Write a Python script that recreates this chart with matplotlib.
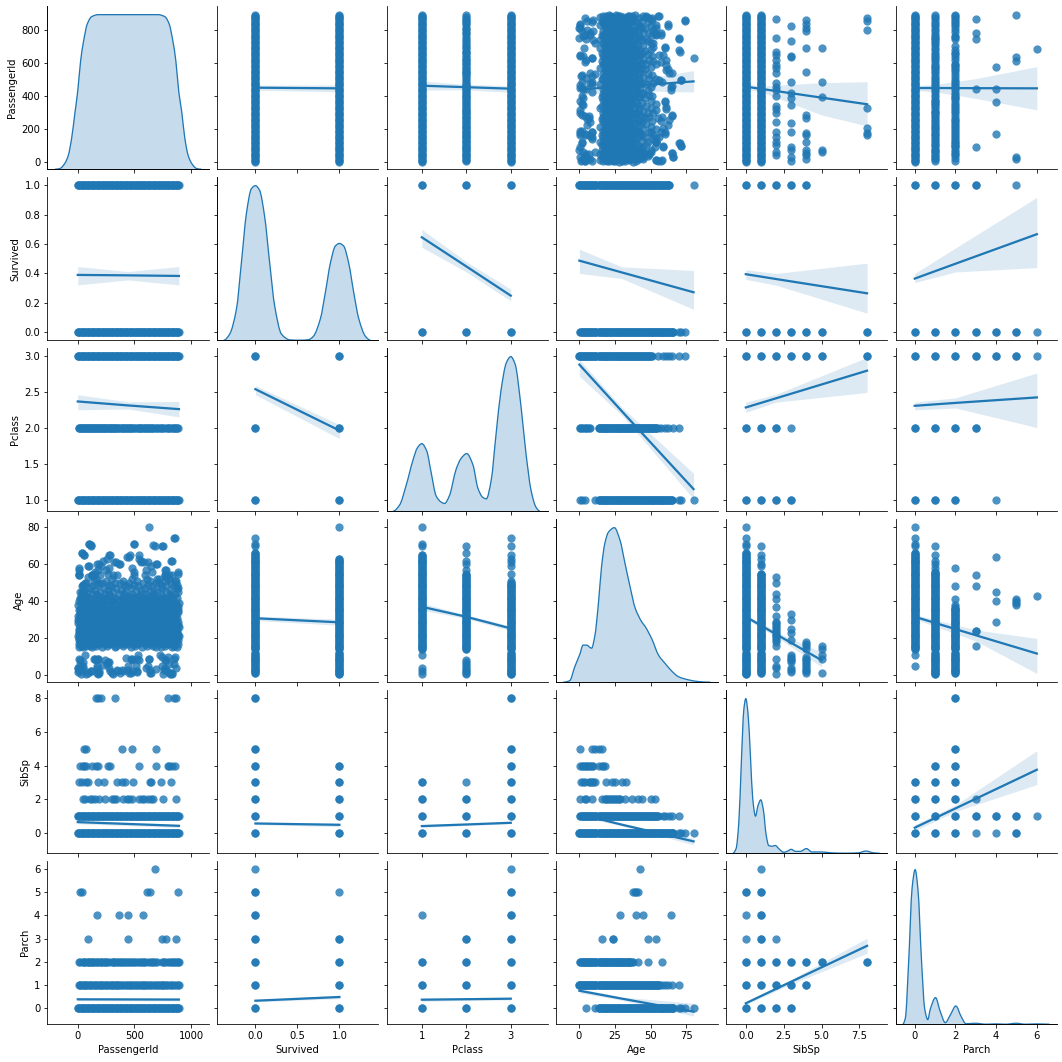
import matplotlib
matplotlib.use("Agg")
import matplotlib.pyplot as plt
from matplotlib.patches import PathPatch
from matplotlib.path import Path

columns = ["PassengerId", "Survived", "Pclass", "Age", "SibSp", "Parch"]

# axis ranges and ticks
x_limits = [(-267, 1153), (-0.457, 1.464), (0.21, 3.84), (-15.6, 96.9), (-1.3, 9.35), (-0.93, 7.0)]
y_limits = [(-42, 943), (-0.054, 1.056), (0.851, 3.11), (-3.8, 84.5), (-1.19, 8.47), (-0.68, 6.34)]
x_ticks = [[0, 500, 1000], [0.0, 0.5, 1.0], [1, 2, 3], [0, 25, 50, 75], [0.0, 2.5, 5.0, 7.5], [0, 2, 4, 6]]
y_ticks = [[0, 200, 400, 600, 800], [0.0, 0.2, 0.4, 0.6, 0.8, 1.0], [1.0, 1.5, 2.0, 2.5, 3.0],
           [0, 20, 40, 60, 80], [0, 2, 4, 6, 8], [0, 1, 2, 3, 4, 5, 6]]

# diagonal density curves, relative height
kde_id_x = [-199, -155, -111, -82, -53, -23, 0, 26, 50, 85, 123, 181, 445, 709, 767, 805, 840, 864, 890, 916, 943, 972, 1001, 1045, 1089]
kde_id_y = [0, 0.005, 0.04, 0.09, 0.2, 0.37, 0.5, 0.7, 0.82, 0.94, 0.987, 1.0, 1.0, 1.0, 0.987, 0.94, 0.82, 0.7, 0.5, 0.37, 0.2, 0.09, 0.04, 0.005, 0]
kde_survived_x = [-0.377, -0.306, -0.226, -0.167, -0.107, -0.048, 0, 0.05, 0.11, 0.17, 0.23, 0.31, 0.41, 0.53, 0.63,
                  0.69, 0.774, 0.833, 0.893, 0.952, 1.0, 1.05, 1.11, 1.17, 1.23, 1.31, 1.37]
kde_survived_y = [0, 0.04, 0.2, 0.5, 0.82, 0.98, 1.0, 0.97, 0.8, 0.5, 0.22, 0.04, 0.002, 0, 0.003,
                  0.025, 0.14, 0.31, 0.5, 0.61, 0.626, 0.61, 0.5, 0.31, 0.14, 0.025, 0]
kde_pclass_x = [0.35, 0.5, 0.65, 0.8, 0.9, 1.0, 1.11, 1.21, 1.32, 1.43, 1.51, 1.62, 1.77, 1.88, 2.01, 2.15, 2.26, 2.37, 2.45, 2.56,
                2.67, 2.78, 2.9, 3.0, 3.1, 3.23, 3.34, 3.46, 3.57, 3.66]
kde_pclass_y = [0, 0.04, 0.17, 0.33, 0.41, 0.437, 0.39, 0.25, 0.1, 0.06, 0.05, 0.1, 0.27, 0.34, 0.373, 0.3, 0.15, 0.09, 0.08, 0.2,
                0.5, 0.78, 0.96, 1.0, 0.95, 0.68, 0.38, 0.13, 0.025, 0]
kde_age_x = [-11, -6.3, -2.8, 0.7, 3, 5.4, 8.9, 11.2, 13.6, 15.9, 18.2, 20.6, 24.8, 28.7, 32.2, 35.7, 39.3, 43.9, 46.3, 50.9,
             55.6, 60.3, 65, 69.6, 76.6, 83.6, 91.8]
kde_age_y = [0, 0.01, 0.1, 0.18, 0.24, 0.24, 0.22, 0.3, 0.5, 0.75, 0.9, 0.97, 1.0, 0.92, 0.77, 0.62, 0.48, 0.39, 0.36, 0.28,
             0.175, 0.12, 0.07, 0.035, 0.015, 0.004, 0]
kde_sibsp_x = [-0.86, -0.64, -0.46, -0.29, -0.13, 0, 0.15, 0.31, 0.46, 0.64, 0.81, 0.99, 1.16, 1.34, 1.51, 1.73, 1.95, 2.17, 2.5, 2.72,
               3, 3.27, 3.6, 4, 4.36, 5, 5.68, 6.56, 7.4, 7.94, 8.4, 8.82]
kde_sibsp_y = [0, 0.03, 0.2, 0.6, 0.93, 1.0, 0.9, 0.62, 0.35, 0.24, 0.31, 0.345, 0.28, 0.12, 0.05, 0.045, 0.05, 0.03, 0.006, 0.012,
               0.025, 0.012, 0.012, 0.03, 0.008, 0.008, 0.002, 0, 0.002, 0.014, 0.003, 0]
kde_parch_x = [-0.59, -0.46, -0.3, -0.13, 0.02, 0.16, 0.33, 0.49, 0.64, 0.77, 1.02, 1.26, 1.5, 1.75, 2.02, 2.28, 2.52, 2.98, 3.5, 4, 4.46, 4.98, 5.44, 6, 6.62]
kde_parch_y = [0, 0.04, 0.4, 0.88, 1.0, 0.87, 0.42, 0.1, 0.03, 0.1, 0.172, 0.08, 0.01, 0.06, 0.118, 0.05, 0.003, 0.006, 0, 0.002, 0, 0.006, 0, 0.002, 0]

# passenger ids that fill the solid rows
id_band = [1, 7, 14, 21, 29, 36, 43, 50, 58, 65, 72, 80, 88, 94, 101, 109, 117, 124, 131, 138, 146, 153, 160, 167, 175, 182,
           190, 197, 204, 211, 219, 226, 233, 240, 248, 255, 262, 269, 277, 284, 291, 298, 306, 313, 320, 327, 335, 342,
           349, 356, 364, 371, 378, 385, 393, 400, 407, 414, 422, 429, 436, 443, 451, 458, 465, 472, 480, 487, 494, 501,
           509, 516, 523, 530, 538, 545, 552, 559, 567, 574, 581, 588, 596, 603, 610, 617, 625, 632, 639, 646, 654, 661,
           668, 675, 683, 690, 697, 704, 712, 719, 726, 733, 741, 748, 755, 762, 770, 777, 784, 791, 799, 806, 813, 820,
           828, 835, 842, 849, 857, 864, 871, 877, 884, 891]
id_pclass2 = [10, 16, 22, 29, 35, 44, 51, 58, 65, 72, 79, 85, 92, 99, 107, 117, 121, 128, 135, 145, 150, 156, 161, 170, 178,
              184, 191, 200, 207, 214, 220, 227, 238, 244, 249, 260, 266, 273, 281, 289, 296, 304, 311, 318, 323, 332, 340,
              349, 358, 367, 377, 386, 393, 400, 408, 417, 425, 433, 441, 450, 459, 466, 473, 484, 495, 506, 518, 530, 539,
              547, 553, 560, 571, 582, 591, 600, 609, 618, 626, 634, 645, 657, 665, 674, 687, 697, 708, 721, 734, 744, 754,
              772, 782, 792, 802, 812, 828, 838, 849, 857, 866, 877, 887]
id_parch1 = [8, 17, 25, 35, 44, 59, 64, 72, 79, 98, 107, 119, 130, 140, 153, 165, 172, 184, 194, 206, 215, 225, 237, 248, 262,
             274, 286, 298, 306, 312, 330, 340, 349, 357, 368, 378, 391, 408, 422, 436, 449, 460, 470, 486, 499, 511, 523,
             537, 551, 562, 572, 583, 593, 610, 622, 636, 648, 660, 679, 690, 707, 720, 731, 742, 752, 760, 775, 790, 803,
             824, 832, 849, 862, 879, 889]
id_parch2 = [9, 25, 44, 52, 60, 72, 89, 96, 103, 114, 125, 137, 148, 160, 172, 183, 194, 205, 218, 230, 241, 252, 262, 280,
             298, 312, 322, 332, 344, 357, 375, 385, 394, 406, 418, 436, 446, 458, 470, 486, 499, 515, 530, 549, 560, 573,
             586, 592, 616, 637, 652, 660, 680, 700, 742, 756, 764, 785, 803, 820, 834, 847, 856, 870, 880, 890]

id_sibsp2 = [44, 64, 105, 125, 155, 185, 245, 300, 320, 340, 400, 436, 456, 476, 537, 567, 587, 617, 647, 667, 748, 862]
id_sibsp3 = [10, 34, 74, 94, 181, 235, 346, 386, 416, 486, 637, 643, 730, 822]
id_sibsp4 = [18, 44, 54, 74, 125, 165, 175, 265, 285, 543, 687, 792, 808, 834, 858]
id_sibsp5 = [60, 74, 392, 482, 687]
id_sibsp8 = [165, 175, 205, 326, 796, 852, 868]
id_parch3 = [90, 440, 742, 778, 862]
id_parch4 = [169, 362, 440, 573]
id_parch5 = [20, 34, 613, 637, 886]
id_parch6 = [681]

# ages that fill the solid columns
age_band = [0.4, 1, 2, 3, 4, 5, 6, 7, 8, 9, 10, 11, 12, 14, 15, 16, 17, 18, 19, 20, 21, 22, 23, 24, 25, 26, 27, 28, 29, 30,
            31, 32, 33, 34, 35, 36, 37, 38, 39, 40, 41, 42, 43, 44, 45, 46, 47, 48, 49, 50, 51, 52, 53, 54, 55, 56, 57, 58,
            59, 60, 61, 62, 63, 64, 65, 66]
age_sibsp2 = [0.8, 4, 5, 9, 16, 18, 19, 20, 21, 22, 23, 24, 25, 26, 27, 28, 29, 32, 37, 41, 44, 50, 53]
age_sibsp3 = [1.5, 3, 4, 7, 8, 9, 10, 11, 19, 23, 25, 30, 33]
age_sibsp4 = [1, 2, 3, 4, 5, 6, 7, 8, 9, 10, 14, 16, 17, 18]
age_sibsp5 = [1, 9, 11, 14, 16]
age_parch3 = [16, 24, 24, 48, 54]
age_parch4 = [29, 40, 45, 64]
age_parch5 = [38, 39, 40, 41]
age_parch6 = [43]

# PassengerId against Age, row by row for the crowded middle
core_ages = [15, 16, 17, 18, 19, 20, 21, 22, 23, 24, 25, 26, 27, 28, 29, 30, 31, 32, 33, 34, 35, 36, 37, 38, 39, 40, 41, 42,
             43, 44, 45, 46, 47, 48, 49, 50, 51, 52, 54]
core_ids = [
    [15, 50, 125, 210, 330, 470, 570, 690, 735, 830, 875],
    [30, 72, 105, 165, 260, 340, 395, 505, 610, 660, 765, 850],
    [8, 58, 118, 190, 240, 300, 375, 445, 535, 640, 720, 795, 880],
    [25, 85, 140, 205, 280, 350, 420, 490, 560, 625, 700, 775, 860],
    [12, 68, 128, 175, 255, 310, 400, 465, 525, 595, 680, 745, 820, 885],
    [40, 95, 155, 225, 290, 365, 435, 510, 580, 650, 715, 790, 870],
    [5, 62, 115, 185, 245, 335, 385, 455, 545, 615, 675, 755, 835, 888],
    [22, 78, 145, 215, 275, 345, 410, 480, 555, 630, 705, 780, 855],
    [48, 105, 170, 235, 305, 370, 440, 515, 590, 665, 730, 805, 876],
    [10, 66, 122, 195, 265, 325, 395, 470, 535, 605, 690, 760, 845],
    [35, 90, 150, 220, 285, 355, 425, 500, 570, 640, 725, 795, 865],
    [18, 75, 135, 200, 270, 340, 405, 460, 550, 620, 695, 770, 840, 889],
    [52, 110, 178, 250, 315, 380, 450, 520, 600, 670, 745, 815, 880],
    [2, 60, 125, 190, 260, 330, 390, 475, 540, 610, 685, 750, 830],
    [28, 82, 160, 230, 295, 360, 430, 505, 575, 645, 720, 790, 860],
    [14, 70, 140, 210, 280, 345, 415, 485, 560, 630, 700, 775, 850],
    [42, 98, 165, 240, 310, 375, 445, 530, 595, 660, 735, 810, 875],
    [6, 64, 130, 195, 255, 325, 400, 465, 545, 615, 680, 755, 835],
    [24, 88, 150, 225, 300, 360, 435, 510, 580, 650, 725, 800, 868],
    [55, 120, 180, 270, 340, 420, 490, 565, 635, 710, 785, 855],
    [11, 76, 145, 215, 290, 370, 455, 525, 600, 675, 745, 820, 884],
    [33, 100, 172, 245, 320, 395, 475, 550, 625, 695, 770, 845],
    [60, 135, 205, 350, 440, 590, 730, 880],
    [4, 85, 160, 280, 380, 520, 610, 690, 765, 860],
    [28, 115, 235, 325, 410, 490, 575, 665, 800, 888],
    [10, 70, 190, 300, 365, 465, 555, 640, 720, 845],
    [48, 150, 255, 345, 425, 530, 615, 705, 790],
    [20, 95, 220, 320, 395, 500, 585, 680, 760, 870],
    [65, 175, 285, 450, 540, 650, 825],
    [38, 130, 245, 360, 480, 600, 735, 855],
    [18, 85, 200, 310, 415, 515, 625, 700, 780, 880],
    [55, 155, 265, 385, 560, 670, 810],
    [105, 230, 340, 470, 595, 745, 885],
    [40, 125, 295, 435, 530, 655, 730, 845],
    [50, 180, 275, 405, 500, 620, 780, 870],
    [75, 215, 330, 370, 455, 575, 685, 825],
    [140, 250, 400, 525, 640, 770, 860],
    [165, 300, 480, 610, 720, 800],
    [122, 145, 200, 350, 500, 595, 769, 830],
]
# second pass over the ages where the cloud is solid
dense_ages = [17, 18, 19, 20, 21, 22, 23, 24, 25, 26, 27, 28, 29, 30, 31, 32, 33, 34, 35, 36, 38, 40, 42, 44]
dense_ids = [
    [35, 155, 275, 410, 500, 590, 760, 840],
    [55, 110, 175, 240, 315, 385, 455, 525, 595, 665, 740, 820],
    [38, 98, 215, 285, 365, 430, 495, 560, 640, 710, 785, 860],
    [10, 68, 125, 190, 260, 330, 400, 475, 545, 615, 685, 755, 835],
    [32, 88, 150, 215, 290, 360, 425, 500, 580, 645, 715, 795, 868],
    [50, 110, 180, 245, 310, 380, 445, 520, 590, 665, 745, 818, 885],
    [15, 78, 135, 200, 270, 340, 405, 480, 555, 625, 700, 770, 842],
    [38, 95, 160, 230, 295, 360, 430, 505, 570, 645, 725, 795, 870],
    [8, 62, 120, 185, 250, 320, 390, 465, 535, 605, 680, 760, 830],
    [45, 105, 168, 235, 305, 372, 435, 510, 585, 655, 730, 805, 878],
    [22, 85, 145, 215, 280, 350, 415, 490, 565, 635, 715, 780, 855],
    [30, 92, 158, 225, 295, 365, 440, 510, 578, 650, 718, 785, 862],
    [48, 118, 182, 245, 312, 378, 448, 520, 592, 668, 742, 815, 885],
    [5, 70, 132, 200, 262, 335, 408, 480, 550, 622, 695, 765, 840],
    [40, 105, 175, 248, 318, 392, 462, 538, 612, 688, 760, 832],
    [18, 82, 150, 222, 285, 352, 425, 498, 568, 640, 712, 788, 860],
    [58, 125, 195, 268, 338, 410, 488, 558, 632, 702, 778, 852],
    [28, 95, 170, 240, 312, 385, 445, 520, 595, 668, 738, 812, 880],
    [62, 135, 205, 280, 350, 428, 500, 572, 655, 730, 805],
    [20, 88, 155, 232, 305, 375, 465, 540, 620, 695, 770, 845],
    [45, 115, 190, 262, 398, 470, 545, 640, 715, 790, 870],
    [72, 140, 215, 300, 440, 510, 600, 680, 755, 825],
    [28, 100, 180, 250, 395, 470, 570, 650, 745, 825],
    [60, 165, 275, 410, 560, 660, 810],
]
# the stragglers, old and young
edge_ids = [631, 852, 664, 743, 494, 97, 117, 34, 55, 12, 10, 13, 95, 50, 122, 152, 171, 181, 205, 225, 255, 278, 319, 365,
            436, 459, 482, 497, 538, 561, 620, 605, 650, 687, 769, 825, 880, 772,
            5, 6, 20, 50, 64, 35, 50, 73, 114, 167, 167, 190, 152, 181, 225, 240, 278, 284, 313, 348, 386, 424, 444, 444, 465,
            482, 520, 532, 523, 541, 605, 629, 640, 687, 722, 745, 766, 751, 780, 795, 810, 833, 848, 868,
            830, 810, 790, 760, 850, 800, 770, 860, 740, 645, 640, 630, 620, 525, 485, 450, 480, 470, 510,
            400, 370, 350, 300, 280, 270, 260, 190, 175, 170, 180, 160, 140, 120, 90, 60, 30, 14, 6, 20, 10,
            832, 858, 748, 677, 285, 335, 370, 697, 557, 536, 456, 496, 118, 98, 54, 34, 98, 275, 250, 265,
            808, 778, 778, 697, 717, 868, 875, 882, 315, 95, 14, 10, 64, 34, 185, 185, 125, 647, 587]
edge_ages = [80, 74, 70.5, 70, 71, 71, 70.5, 66, 65, 58, 55, 54, 59, 49, 54, 56, 60, 57, 59, 62, 63, 65, 61, 60,
             64, 65, 58, 56, 65, 62, 61, 57, 56, 60, 57, 62, 56, 54,
             4, 1.5, 8, 7, 11, 4, 5, 0.5, 2, 4, 1, 2, 9, 9, 5.5, 8, 7, 2, 0.7, 3, 3, 9.5, 4.7, 3, 1,
             9, 9, 11, 1.5, 8, 4, 9, 1, 3.4, 11, 5, 4, 0.5, 8, 10, 0.5, 1, 9, 4,
             0.8, 1, 2, 3, 6, 6, 8, 10, 10, 1, 3, 9, 5, 2, 2, 1, 8, 9, 5,
             2, 1, 2, 1, 4, 7, 6, 1, 0.8, 5, 9, 8, 9, 2, 1, 3, 0.8, 2, 4, 6, 9,
             62, 74, 70, 70, 65, 61, 60, 60, 61, 63, 64, 71, 70, 71, 65, 66, 59, 58, 57, 55,
             54, 57, 53, 52, 50, 51, 47, 55, 54, 53, 54, 57, 50, 45, 50, 60, 54, 59, 61]

# how many dots each discrete cell gets: cells with one passenger stay pale
pclass_by_survived = ([1, 1, 2, 2, 3, 3, 1, 1, 2, 2, 3, 3], [0, 0, 0, 0, 0, 0, 1, 1, 1, 1, 1, 1])
survived_sibsp = ([0, 0, 0, 0, 0, 0, 0, 0, 0, 0, 0, 0, 0, 0, 1, 1, 1, 1, 1, 1, 1, 1, 1, 1],
                  [0, 0, 1, 1, 2, 2, 3, 3, 4, 4, 5, 5, 8, 8, 0, 0, 1, 1, 2, 2, 3, 3, 4, 4])
survived_parch = ([0, 0, 0, 0, 0, 0, 0, 0, 0, 0, 0, 0, 0, 1, 1, 1, 1, 1, 1, 1, 1, 1],
                  [0, 0, 1, 1, 2, 2, 3, 3, 4, 4, 5, 5, 6, 0, 0, 1, 1, 2, 2, 3, 3, 5])
pclass_sibsp = ([1, 1, 1, 1, 1, 1, 1, 1, 2, 2, 2, 2, 2, 2, 2, 3, 3, 3, 3, 3, 3, 3, 3, 3, 3, 3, 3, 3, 3],
                [0, 0, 1, 1, 2, 2, 3, 3, 0, 0, 1, 1, 2, 2, 3, 0, 0, 1, 1, 2, 2, 3, 3, 4, 4, 5, 5, 8, 8])
pclass_parch = ([1, 1, 1, 1, 1, 1, 1, 2, 2, 2, 2, 2, 2, 2, 2, 3, 3, 3, 3, 3, 3, 3, 3, 3, 3, 3, 3, 3],
                [0, 0, 1, 1, 2, 2, 4, 0, 0, 1, 1, 2, 2, 3, 3, 0, 0, 1, 1, 2, 2, 3, 3, 4, 4, 5, 5, 6])
sibsp_parch = ([0, 0, 0, 0, 0, 0, 0, 0, 0, 0, 1, 1, 1, 1, 1, 1, 1, 1, 1, 1, 1, 1, 1, 2, 2, 2, 2, 2, 2, 2, 3, 3, 3, 3, 3, 3, 4, 4, 4, 4, 5, 5, 8, 8],
               [0, 0, 1, 1, 2, 2, 3, 4, 5, 5, 0, 0, 1, 1, 2, 2, 3, 3, 4, 4, 5, 5, 6, 0, 0, 1, 1, 2, 2, 3, 0, 0, 1, 1, 2, 2, 1, 1, 2, 2, 2, 2, 2, 2])

# regression lines: x, fit, lower band, upper band
fit_id_survived = ([0, 1], [450, 446], [435, 425], [465, 467])
fit_id_pclass = ([1, 2, 3], [462, 453, 444], [436, 437, 422], [490, 470, 462])
fit_id_age = ([0.4, 30, 80], [440, 456, 488], [405, 432, 424], [472, 480, 553])
fit_id_sibsp = ([0, 1, 5, 8], [456, 443, 390, 350], [438, 425, 285, 219], [474, 460, 480, 486])
fit_id_parch = ([0, 1, 3, 6], [448, 448, 447, 446], [433, 425, 385, 316], [462, 470, 505, 577])
fit_survived_id = ([1, 445, 891], [0.39, 0.387, 0.383], [0.322, 0.356, 0.322], [0.447, 0.413, 0.447])
fit_survived_pclass = ([1, 2, 3], [0.646, 0.448, 0.249], [0.578, 0.41, 0.213], [0.70, 0.48, 0.293])
fit_survived_age = ([0.4, 30, 80], [0.487, 0.407, 0.272], [0.40, 0.365, 0.156], [0.565, 0.445, 0.42])
fit_survived_sibsp = ([0, 2, 8], [0.395, 0.362, 0.265], [0.36, 0.32, 0.13], [0.425, 0.40, 0.47])
fit_survived_parch = ([0, 2, 6], [0.365, 0.466, 0.667], [0.338, 0.41, 0.44], [0.40, 0.573, 0.918])
fit_pclass_id = ([1, 445, 891], [2.37, 2.315, 2.264], [2.255, 2.265, 2.157], [2.463, 2.365, 2.37])
fit_pclass_survived = ([0, 1], [2.54, 1.968], [2.463, 1.855], [2.59, 2.05])
fit_pclass_age = ([0.4, 30, 80], [2.88, 2.235, 1.157], [2.72, 2.18, 1.02], [2.95, 2.29, 1.375])
fit_pclass_sibsp = ([0, 2, 8], [2.287, 2.414, 2.796], [2.22, 2.36, 2.495], [2.36, 2.47, 2.98])
fit_pclass_parch = ([0, 2, 6], [2.31, 2.35, 2.426], [2.255, 2.28, 2.009], [2.36, 2.42, 2.764])
fit_age_id = ([1, 891], [29.0, 30.0], [26.5, 27.5], [31.5, 32.5])
fit_age_survived = ([0, 1], [30.8, 28.6], [29.6, 27.0], [32.0, 30.2])
fit_age_pclass = ([1, 2, 3], [37, 31.6, 25.3], [35.2, 30.6, 24.0], [39, 32.6, 26.6])
fit_age_sibsp = ([0, 2.5, 5], [31.6, 19.8, 8.1], [30.6, 18.0, 4.5], [32.6, 21.6, 12.6])
fit_age_parch = ([0, 3, 6], [31.6, 21.6, 11.7], [30.4, 18.5, 0.9], [32.8, 24.5, 19.9])
fit_sibsp_id = ([1, 891], [0.65, 0.43], [0.55, 0.33], [0.75, 0.53])
fit_sibsp_survived = ([0, 1], [0.57, 0.49], [0.5, 0.38], [0.64, 0.6])
fit_sibsp_pclass = ([1, 2, 3], [0.415, 0.51, 0.61], [0.33, 0.45, 0.55], [0.5, 0.57, 0.67])
fit_sibsp_age = ([0.4, 30, 80], [1.12, 0.5, -0.49], [1.0, 0.42, -0.69], [1.22, 0.57, -0.3])
fit_sibsp_parch = ([0, 2, 6], [0.32, 1.46, 3.75], [0.14, 1.28, 2.87], [0.5, 1.66, 4.88])
fit_parch_id = ([1, 891], [0.39, 0.38], [0.33, 0.32], [0.45, 0.44])
fit_parch_survived = ([0, 1], [0.33, 0.49], [0.28, 0.42], [0.38, 0.56])
fit_parch_pclass = ([1, 2, 3], [0.374, 0.395, 0.417], [0.3, 0.34, 0.36], [0.45, 0.45, 0.48])
fit_parch_age = ([0.4, 30, 80], [0.76, 0.42, -0.14], [0.67, 0.35, -0.33], [0.85, 0.49, 0.22])
fit_parch_sibsp = ([0, 3, 8], [0.22, 1.15, 2.69], [0.16, 1.05, 2.37], [0.28, 1.25, 3.02])


def expand(levels, members):
    level_out, member_out = [], []
    for level, values in zip(levels, members):
        level_out += [level] * len(values)
        member_out += list(values)
    return level_out, member_out


def ages_between(low, high, extra=()):
    # listed twice so the solid part reaches full colour
    return [a for a in age_band if low <= a <= high] * 2 + list(extra)


def smooth_path(xs, ys):
    # bezier through the read points so the curve has no corners
    slopes = [(ys[i + 1] - ys[i]) / (xs[i + 1] - xs[i]) for i in range(len(xs) - 1)]
    tangents = [0.0] * len(xs)
    for i in range(1, len(xs) - 1):
        a, b = slopes[i - 1], slopes[i]
        if a * b > 0:
            tangents[i] = 2 * a * b / (a + b)
    verts = [(xs[0], ys[0])]
    codes = [Path.MOVETO]
    for i in range(len(xs) - 1):
        step = (xs[i + 1] - xs[i]) / 3
        verts += [(xs[i] + step, ys[i] + tangents[i] * step),
                  (xs[i + 1] - step, ys[i + 1] - tangents[i + 1] * step),
                  (xs[i + 1], ys[i + 1])]
        codes += [Path.CURVE4] * 3
    return verts, codes


# one (values of lower index, values of higher index) per pair of columns
points = {}
sv, ids = expand([0, 1], [id_band, id_band])
points[0, 1] = (ids, sv)
pc, ids = expand([1, 2, 3], [id_band, id_pclass2, id_band])
points[0, 2] = (ids, pc)
ages, ids = expand(core_ages, core_ids)
ages2, ids2 = expand(dense_ages, dense_ids)
points[0, 3] = (ids + ids2 + edge_ids, ages + ages2 + edge_ages)
ss, ids = expand([0, 1, 2, 3, 4, 5, 8], [id_band, id_band, id_sibsp2, id_sibsp3, id_sibsp4, id_sibsp5, id_sibsp8])
points[0, 4] = (ids, ss)
pa, ids = expand([0, 1, 2, 3, 4, 5, 6], [id_band, id_parch1, id_parch2, id_parch3, id_parch4, id_parch5, id_parch6])
points[0, 5] = (ids, pa)
points[1, 2] = (pclass_by_survived[1], pclass_by_survived[0])
sv, ages = expand([0, 1], [ages_between(1, 66, [70, 71, 74]), ages_between(0.4, 63, [80])])
points[1, 3] = (sv, ages)
points[1, 4] = survived_sibsp
points[1, 5] = survived_parch
pc, ages = expand([1, 2, 3], [[0.9, 2, 4, 11] + ages_between(14, 65, [70, 71, 80]),
                              [0.8, 1, 2, 3, 4, 5, 6, 7, 8] + ages_between(14, 54, [55, 57, 60, 62, 66, 70]),
                              ages_between(0.4, 50, [51, 55, 59, 61, 63, 65, 70, 74])])
points[2, 3] = (pc, ages)
points[2, 4] = pclass_sibsp
points[2, 5] = pclass_parch
ss, ages = expand([0, 1, 2, 3, 4, 5], [ages_between(0.4, 66, [70, 71, 74, 80]),
                                       ages_between(0.7, 55, [59, 60, 63, 65, 70]),
                                       age_sibsp2, age_sibsp3, age_sibsp4, age_sibsp5])
points[3, 4] = (ages, ss)
pa, ages = expand([0, 1, 2, 3, 4, 5, 6], [ages_between(14, 66, [5, 11, 70, 71, 74, 80]),
                                          ages_between(0.4, 56, [58, 60, 62, 65, 70]),
                                          ages_between(0.7, 36, [37, 38, 41, 48, 58]),
                                          age_parch3, age_parch4, age_parch5, age_parch6])
points[3, 5] = (ages, pa)
points[4, 5] = sibsp_parch

fits = {
    (0, 1): fit_id_survived, (0, 2): fit_id_pclass, (0, 3): fit_id_age, (0, 4): fit_id_sibsp, (0, 5): fit_id_parch,
    (1, 0): fit_survived_id, (1, 2): fit_survived_pclass, (1, 3): fit_survived_age, (1, 4): fit_survived_sibsp, (1, 5): fit_survived_parch,
    (2, 0): fit_pclass_id, (2, 1): fit_pclass_survived, (2, 3): fit_pclass_age, (2, 4): fit_pclass_sibsp, (2, 5): fit_pclass_parch,
    (3, 0): fit_age_id, (3, 1): fit_age_survived, (3, 2): fit_age_pclass, (3, 4): fit_age_sibsp, (3, 5): fit_age_parch,
    (4, 0): fit_sibsp_id, (4, 1): fit_sibsp_survived, (4, 2): fit_sibsp_pclass, (4, 3): fit_sibsp_age, (4, 5): fit_sibsp_parch,
    (5, 0): fit_parch_id, (5, 1): fit_parch_survived, (5, 2): fit_parch_pclass, (5, 3): fit_parch_age, (5, 4): fit_parch_sibsp,
}
kdes = [(kde_id_x, kde_id_y), (kde_survived_x, kde_survived_y), (kde_pclass_x, kde_pclass_y),
        (kde_age_x, kde_age_y), (kde_sibsp_x, kde_sibsp_y), (kde_parch_x, kde_parch_y)]

size = 1062
fig = plt.figure(figsize=(size / 72, size / 72), dpi=72)
blue = "#1f77b4"

for r in range(6):
    for c in range(6):
        left = 47.3 + 169.7 * c
        top = 6 + 171 * r
        ax = fig.add_axes([left / size, 1 - (top + 163.2) / size, 161.4 / size, 163.2 / size])
        ax.set_xlim(x_limits[c])
        ax.set_ylim(y_limits[r])
        ax.set_xticks(x_ticks[c])
        ax.set_yticks(y_ticks[r])
        ax.spines["top"].set_visible(False)
        ax.spines["right"].set_visible(False)
        if r < 5:
            ax.tick_params(labelbottom=False)
        else:
            ax.set_xlabel(columns[c])
        if c > 0:
            ax.tick_params(labelleft=False)
        else:
            ax.set_ylabel(columns[r])

        if r == c:
            twin = ax.twinx()
            twin.set_ylim(0, 1.056)
            twin.set_yticks([])
            twin.spines["top"].set_visible(False)
            twin.spines["right"].set_visible(False)
            verts, codes = smooth_path(kdes[r][0], kdes[r][1])
            twin.add_patch(PathPatch(Path(verts, codes), facecolor=blue, alpha=0.25, linewidth=0))
            twin.add_patch(PathPatch(Path(verts, codes), fill=False, edgecolor=blue, linewidth=1.3))
            continue

        low, high = min(r, c), max(r, c)
        first, second = points[low, high]
        xs, ys = (first, second) if c == low else (second, first)
        ax.scatter(xs, ys, s=68, color=blue, alpha=0.8, linewidths=0)
        fit_x, fit_y, fit_lo, fit_hi = fits[r, c]
        ax.fill_between(fit_x, fit_lo, fit_hi, color=blue, alpha=0.15, linewidth=0)
        ax.plot(fit_x, fit_y, color=blue, lw=2.25)

fig.savefig("out.png", dpi=72)
